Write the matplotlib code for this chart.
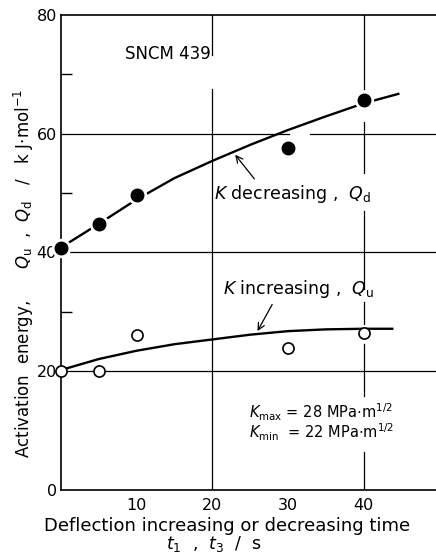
import matplotlib

matplotlib.use("Agg")
import matplotlib.pyplot as plt

t_points = [0, 5, 10, 30, 40]
q_decreasing = [40.8, 44.7, 49.7, 57.5, 65.6]
q_increasing = [20.0, 20.0, 26.0, 23.8, 26.4]

# hand-drawn fitted curves (read at a few positions)
curve_d_t = [0, 5, 10, 15, 20, 25, 30, 35, 40, 44.6]
curve_d_q = [40.8, 44.8, 48.9, 52.5, 55.4, 58.1, 60.6, 62.9, 65.1, 66.7]
curve_u_t = [0.4, 5, 10, 15, 20, 25, 30, 35, 40, 43.8]
curve_u_q = [20.3, 22.0, 23.4, 24.5, 25.3, 26.1, 26.7, 27.0, 27.1, 27.1]

y_major = [0, 20, 40, 60, 80]
y_minor = [30, 50, 70]
x_labels = [10, 20, 30, 40]
x_minor = [10, 30]

# broken grid segments as they appear in the print
grid_x20 = [(0, 67.6), (73.2, 80)]
grid_x40 = [(0, 6.4), (15.7, 24.5), (27.9, 31.6), (33.8, 46.9), (53.4, 61.9), (67.6, 80)]
grid_y60 = [(0, 30.2), (32.9, 50)]

fig = plt.figure(figsize=(4.36, 5.53), dpi=100)
ax = fig.add_axes([0.140, 0.1148, 0.862, 0.8581])
ax.set_xlim(0, 49.7)
ax.set_ylim(0, 80)

for lo, hi in grid_x20:
    ax.plot([20, 20], [lo, hi], color="black", lw=0.9, zorder=1)
for lo, hi in grid_x40:
    ax.plot([40, 40], [lo, hi], color="black", lw=0.9, zorder=1)
for lo, hi in grid_y60:
    ax.plot([lo, hi], [60, 60], color="black", lw=0.9, zorder=1)
ax.plot([0, 50], [40, 40], color="black", lw=0.9, zorder=1)
ax.plot([0, 50], [20, 20], color="black", lw=0.9, zorder=1)

# curves
ax.plot(curve_d_t, curve_d_q, color="black", lw=1.7, zorder=2, clip_on=False)
ax.plot(curve_u_t, curve_u_q, color="black", lw=1.7, zorder=2, clip_on=False)

# solid dots with a white halo to break the line like the print
ax.plot(t_points, q_decreasing, "o", ms=13, color="white", zorder=3, clip_on=False)
ax.plot(t_points, q_decreasing, "o", ms=9, color="black", zorder=4, clip_on=False)
ax.plot(t_points, q_increasing, "o", ms=8, mfc="white", mec="black", mew=1.2,
        zorder=4, clip_on=False)

fs = 12.5
ax.text(8.5, 73.4, "SNCM 439", fontsize=12, va="center", ha="left")
ax.text(20.2, 49.8, r"$K$ decreasing ,  $Q_{\rm d}$", fontsize=fs, va="center", ha="left")
ax.text(21.4, 33.8, r"$K$ increasing ,  $Q_{\rm u}$", fontsize=fs, va="center", ha="left")
ax.text(24.8, 13.1, r"$K_{\rm max}$ = 28 MPa$\cdot$m$^{1/2}$", fontsize=10.5,
        va="center", ha="left")
ax.text(24.8, 9.6, r"$K_{\rm min}$  = 22 MPa$\cdot$m$^{1/2}$", fontsize=10.5,
        va="center", ha="left")

arrow = dict(arrowstyle="->", color="black", lw=0.9, mutation_scale=12)
ax.annotate("", xy=(22.8, 56.8), xytext=(25.8, 52.0), arrowprops=arrow)
ax.annotate("", xy=(25.8, 26.3), xytext=(28.1, 31.6), arrowprops=arrow)

# spines and ticks
ax.spines["right"].set_visible(False)
for side in ["left", "bottom", "top"]:
    ax.spines[side].set_linewidth(1.2)

ax.set_yticks(y_major)
ax.set_yticks(y_minor, minor=True)
ax.set_xticks(x_labels)
ax.set_xticks(x_minor, minor=True)
ax.tick_params(axis="y", which="major", length=0, pad=3, labelsize=11.5)
ax.tick_params(axis="y", which="minor", direction="in", length=8, width=1)
ax.tick_params(axis="x", which="major", length=0, pad=6, labelsize=11.5)
ax.tick_params(axis="x", which="minor", direction="in", length=9, width=1)

fig.text(0.054, 0.506,
         r"Activation  energy,      $Q_{\rm u}$  ,  $Q_{\rm d}$   /   k J$\cdot$mol$^{-1}$",
         fontsize=12, rotation=90, ha="center", va="center")
fig.text(0.521, 0.049, "Deflection increasing or decreasing time", fontsize=13,
         ha="center", va="center")
fig.text(0.491, 0.016, r"$t_1$  ,  $t_3$  /  s", fontsize=12.5, ha="center", va="center")

fig.savefig("out.png", dpi=100)
